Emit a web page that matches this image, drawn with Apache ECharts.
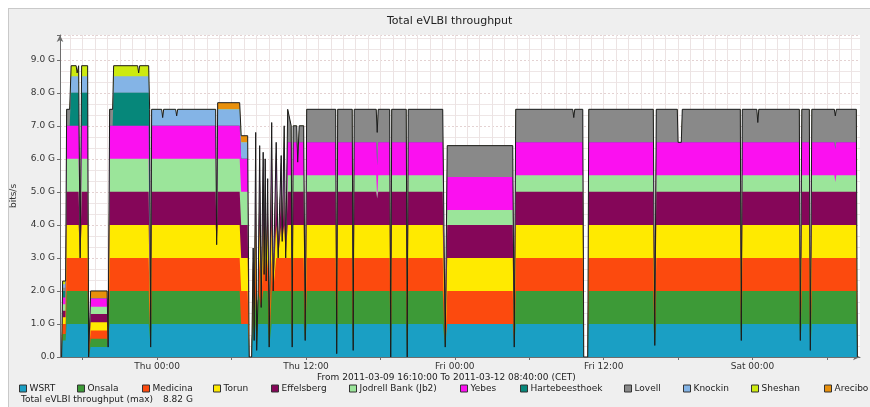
<!DOCTYPE html>
<html><head><meta charset="utf-8">
<script src="https://cdn.jsdelivr.net/npm/echarts@6/dist/echarts.min.js"></script>
<style>
html,body{margin:0;padding:0;background:#fff;overflow:hidden;}
#panel{position:absolute;left:8px;top:8px;width:862px;height:399px;background:#efefef;border-top:1px solid #c9c9c9;border-left:1px solid #c9c9c9;box-sizing:border-box;}
#chart{position:absolute;left:0;top:0;width:870px;height:407px;}
</style></head><body>
<div id="panel"></div><div id="chart"></div>
<script>
// time in hours relative to Thu 2011-03-10 00:00 CET; values in Gbit/s
const startHour = -(7 + 50/60);   // 2011-03-09 16:10
const endHour = 56 + 40/60;       // 2011-03-12 08:40
const times = [
-7.702,-7.621,-7.379,-7.298,-7.056,-6.935,-6.532,-6.452,-6.331,-6.210,
-6.089,-5.605,-5.524,-5.444,-5.363,-4.032,-3.952,-3.831,-3.589,-3.508,
-1.573,-1.492,-1.411,-0.685,-0.605,-0.524,-0.444,0.363,0.444,0.524,
1.492,1.573,1.653,4.718,4.798,4.879,6.653,6.774,7.298,7.419,
7.621,7.742,7.823,7.944,8.024,8.145,8.266,8.387,8.548,8.629,
8.710,8.790,8.911,9.032,9.234,9.355,9.597,9.758,10.0,10.081,
10.242,10.363,10.524,10.685,10.806,10.887,10.968,11.250,11.331,11.452,
11.815,11.935,12.056,14.395,14.476,14.556,15.726,15.806,15.887,17.661,
17.742,17.823,18.750,18.831,18.911,20.081,20.161,20.242,23.024,23.226,
23.387,28.669,28.790,28.911,33.508,33.589,33.669,34.315,34.395,34.718,
34.798,40.0,40.121,40.242,41.935,42.0,42.258,42.339,47.016,47.097,
47.177,48.347,48.427,48.508,51.774,51.855,51.976,52.581,52.661,52.782,
54.597,54.677,54.758,56.371,56.452];

const stations = ['WSRT','Onsala','Medicina','Torun','Effelsberg','Jodrell Bank (Jb2)','Yebes','Hartebeesthoek','Lovell','Knockin','Sheshan','Arecibo'];

const wsrt = [
0,.5,.5,1,1,1,1,1,1,1,
1,1,0,0,.3,.3,.3,1,1,1,
1,1,1,1,1,.3,1,1,1,1,
1,1,1,1,1,1,1,1,1,0,
0,1,.5,1,.2,1,1,1,1,1,
1,1,1,.3,1,1,1,1,1,1,
1,1,1,1,1,.3,1,1,1,1,
1,.5,1,1,.1,1,1,.2,1,1,
1,1,1,0,1,1,0,1,1,.3,
1,1,.3,1,1,1,1,1,0,0,
1,1,.35,1,1,1,1,1,1,.5,
1,1,1,1,1,.5,1,1,.2,1,
1,1,1,1,0];
const onsala = [
0,.2,.2,1,1,1,1,1,1,1,
1,1,0,0,.25,.25,0,1,1,1,
1,1,1,1,1,0,1,1,1,1,
1,1,1,1,1,1,1,0,0,0,
0,1,0,1,0,1,1,.5,1,1,
1,1,1,0,1,1,1,1,1,1,
1,1,1,1,1,0,1,1,1,1,
1,0,1,1,0,1,1,0,1,1,
1,1,1,0,1,1,0,1,1,0,
0,0,0,1,1,1,1,1,0,0,
1,1,0,1,1,1,1,1,1,0,
1,1,1,1,1,0,1,1,0,1,
1,1,1,1,0];
const medicina = [
0,.3,.3,1,1,1,1,1,1,1,
1,1,0,0,.25,.25,0,1,1,1,
1,1,1,1,1,0,1,1,1,1,
1,1,1,1,1,1,1,1,1,0,
0,1,0,1,0,0,1,0,1,.5,
1,.3,1,0,1,0,1,1,1,1,
1,1,1,1,1,0,1,1,1,1,
1,0,1,1,0,1,1,0,1,1,
1,1,1,0,1,1,0,1,1,0,
1,1,0,1,1,1,1,1,0,0,
1,1,0,1,1,1,1,1,1,0,
1,1,1,1,1,0,1,1,0,1,
1,1,1,1,0];
const torun = [
0,.2,.2,1,1,1,1,1,1,0,
1,1,0,0,.25,.25,0,1,1,1,
1,1,1,1,1,0,1,1,1,1,
1,1,1,1,.4,1,1,1,1,0,
0,.3,0,1,0,0,1,0,1,0,
1,0,1,0,1,0,1,0,1,.5,
1,0,1,1,1,0,1,1,1,1,
1,0,1,1,0,1,1,0,1,1,
1,1,1,0,1,1,0,1,1,0,
1,1,0,1,1,1,1,1,0,0,
1,1,0,1,1,1,1,1,1,0,
1,1,1,1,1,0,1,1,0,1,
1,1,1,1,0];
const effelsberg = [
0,.2,.2,1,1,1,1,1,1,0,
1,1,0,0,.25,.25,0,1,1,1,
1,1,1,1,1,0,1,1,1,1,
1,1,1,1,0,1,1,1,1,0,
0,0,0,1,0,0,1,0,1,0,
1,0,1,0,1,0,1,0,1,0,
1,0,1,1,1,0,1,1,1,1,
1,0,1,1,0,1,1,0,1,1,
.8,1,1,0,1,1,0,1,1,0,
1,1,0,1,1,1,1,1,0,0,
1,1,0,1,1,1,1,1,1,0,
1,1,1,1,1,0,1,1,0,1,
1,1,1,1,0];
const jodrell = [
0,.2,.2,1,1,1,1,1,1,0,
1,1,0,0,.22,.22,0,1,1,1,
1,1,1,1,1,0,1,1,1,1,
1,1,1,1,0,1,1,1,1,0,
0,0,0,.5,0,0,.5,0,.5,0,
.5,0,.4,0,.5,0,.5,0,.5,0,
.5,0,.5,.5,.5,0,.5,.5,.5,.5,
.5,0,.5,.5,0,.5,.5,0,.5,.5,
0,.5,.5,0,.5,.5,0,.5,.5,0,
.45,.45,0,.5,.5,.5,.5,.5,0,0,
.5,.5,0,.5,.5,.5,.5,.5,.5,0,
.5,.5,.5,.5,.5,0,.5,.5,0,.5,
.5,.3,.5,.5,0];
const yebes = [
0,.2,.2,1,1,1,1,1,1,0,
1,1,0,0,.25,.25,0,1,1,1,
1,1,1,1,1,0,1,1,1,1,
1,1,1,1,0,1,1,1,1,0,
0,0,0,1,0,0,.9,0,.7,0,
.5,0,0,0,1,0,1,0,.6,0,
1,0,1,1,1,0,1,1,.4,1,
1,0,1,1,0,1,1,0,1,1,
1,1,1,0,1,1,0,1,1,0,
1,1,0,1,1,1,1,1,0,0,
1,1,0,1,1,1,1,1,1,0,
1,1,1,1,1,0,1,1,0,1,
1,1,1,1,0];
const hartebeesthoek = [
0,.2,.2,0,0,1,1,1,1,0,
1,1,0,0,0,0,0,0,0,1,
1,1,1,1,0,0,0,0,0,0,
0,0,0,0,0,0,0,0,0,0,
0,0,0,0,0,0,0,0,0,0,
0,0,0,0,0,0,0,0,0,0,
0,0,0,0,0,0,0,0,0,0,
0,0,0,0,0,0,0,0,0,0,
0,0,0,0,0,0,0,0,0,0,
0,0,0,0,0,0,0,0,0,0,
0,0,0,0,0,0,0,0,0,0,
0,0,0,0,0,0,0,0,0,0,
0,0,0,0,0];
const lovell = [
0,.1,.1,.5,.5,0,0,0,0,0,
0,0,0,0,0,0,0,.5,.5,0,
0,0,0,0,0,0,0,0,0,0,
0,0,0,0,0,0,0,0,0,0,
0,0,0,.3,0,0,0,0,0,0,
0,0,0,0,.6,0,0,0,0,0,
.5,0,1,1,.5,0,.5,.5,0,.5,
.5,0,1,1,0,1,1,0,1,1,
1,1,1,0,1,1,0,1,1,0,
.95,.95,0,1,1,.75,1,1,0,0,
1,1,0,1,1,0,0,1,1,0,
1,1,.6,1,1,0,1,1,0,1,
1,1,1,1,0];
const knockin = [
0,.1,.1,0,0,.5,.5,.5,.5,0,
.5,.5,0,0,0,0,0,0,0,.5,
.5,.5,.5,.5,.5,0,.5,.5,.25,.5,
.5,.3,.5,.5,0,.5,.5,.5,.5,0,
0,0,0,0,0,0,0,0,0,0,
0,0,0,0,0,0,0,0,0,0,
0,0,0,0,0,0,0,0,0,0,
0,0,0,0,0,0,0,0,0,0,
0,0,0,0,0,0,0,0,0,0,
0,0,0,0,0,0,0,0,0,0,
0,0,0,0,0,0,0,0,0,0,
0,0,0,0,0,0,0,0,0,0,
0,0,0,0,0];
const sheshan = [
0,.1,.1,0,0,.32,.32,.1,.32,0,
.32,.32,0,0,0,0,0,0,0,.32,
.32,.1,.32,.32,0,0,0,0,0,0,
0,0,0,0,0,0,0,0,0,0,
0,0,0,0,0,0,0,0,0,0,
0,0,0,0,0,0,0,0,0,0,
0,0,0,0,0,0,0,0,0,0,
0,0,0,0,0,0,0,0,0,0,
0,0,0,0,0,0,0,0,0,0,
0,0,0,0,0,0,0,0,0,0,
0,0,0,0,0,0,0,0,0,0,
0,0,0,0,0,0,0,0,0,0,
0,0,0,0,0];
const arecibo = [
0,0,0,0,0,0,0,0,0,0,
0,0,0,0,.23,.23,0,0,0,0,
0,0,0,0,0,0,0,0,0,0,
0,0,0,0,0,.2,.2,.2,.2,0,
0,0,0,0,0,0,0,0,0,0,
0,0,0,0,0,0,0,0,0,0,
0,0,0,0,0,0,0,0,0,0,
0,0,0,0,0,0,0,0,0,0,
0,0,0,0,0,0,0,0,0,0,
0,0,0,0,0,0,0,0,0,0,
0,0,0,0,0,0,0,0,0,0,
0,0,0,0,0,0,0,0,0,0,
0,0,0,0,0];

const tickHours = [0, 12, 24, 36, 48];
const tickLabels = ['Thu 00:00', 'Thu 12:00', 'Fri 00:00', 'Fri 12:00', 'Sat 00:00'];
const rangeText = 'From 2011-03-09 16:10:00 To 2011-03-12 08:40:00 (CET)';

const values = [wsrt, onsala, medicina, torun, effelsberg, jodrell, yebes, hartebeesthoek, lovell, knockin, sheshan, arecibo];
const colors = ['#1a9fc4','#3d9a37','#fc4a0e','#ffea00','#850659','#9be59a','#fb10f0','#06877a','#898989','#84b4e6','#cdea10','#e8900c'];
values.forEach((a, k) => { if (a.length !== times.length) console.error('length mismatch', stations[k], a.length); });

// cumulative (stacked) tops, bottom station first
const cumulative = [];
let run = times.map(() => 0);
values.forEach(a => { run = run.map((s, i) => s + a[i]); cumulative.push(run.slice()); });
const totals = run;
const maxTotal = Math.max(...totals);

const FONT = 'DejaVu Sans';
const hourLines = [];
for (let h = Math.ceil(startHour); h <= Math.floor(endHour); h++) hourLines.push({ xAxis: h });
const sixHourTicks = [];
for (let h = -6; h <= endHour; h += 6) sixHourTicks.push(h);
const legendLeft = [19, 77, 142, 213, 271, 349, 460, 520, 624, 683, 751, 824];

const series = [];
series.push({
  name: 'grid', type: 'line', data: [], silent: true, z: 1,
  markLine: { z: 1, silent: true, symbol: ['none', 'none'], label: { show: false },
    lineStyle: { color: '#ece3e3', width: 1, type: 'solid' }, animation: false, data: hourLines }
});
// paint top station first so each lower band covers the one above it
for (let k = stations.length - 1; k >= 0; k--) {
  series.push({
    name: stations[k], type: 'line', symbol: 'none', showSymbol: false,
    lineStyle: { width: 0 }, itemStyle: { color: colors[k] },
    areaStyle: { color: colors[k], opacity: 1 },
    emphasis: { disabled: true }, silent: true, z: 2,
    data: times.map((t, i) => [t, +cumulative[k][i].toFixed(4)])
  });
}
series.push({
  name: 'Total', type: 'line', symbol: 'none', showSymbol: false, silent: true, z: 3,
  lineStyle: { color: '#1c1c1c', width: 1 }, emphasis: { disabled: true },
  data: times.map((t, i) => [t, +totals[i].toFixed(4)])
});

const chart = echarts.init(document.getElementById('chart'));
chart.setOption({
  animation: false,
  title: { text: 'Total eVLBI throughput', left: 382, top: 11,
    textStyle: { fontSize: 11, fontWeight: 'normal', color: '#222', fontFamily: FONT } },
  grid: { left: 60, right: 10, top: 35, bottom: 50, show: true, backgroundColor: '#ffffff', borderWidth: 0 },
  xAxis: {
    type: 'value', min: startHour, max: endHour,
    axisLine: { show: true, onZero: false, lineStyle: { color: '#6e6e6e' }, symbol: ['none', 'arrow'], symbolSize: [5, 7] },
    axisTick: { show: true, customValues: sixHourTicks, length: 3, lineStyle: { color: '#6e6e6e' } },
    axisLabel: { customValues: tickHours, formatter: v => { const i = tickHours.indexOf(v); return i >= 0 ? tickLabels[i] : ''; },
      fontSize: 9, color: '#333', fontFamily: FONT, margin: 5 },
    splitLine: { show: false }
  },
  yAxis: {
    type: 'value', min: 0, max: 9.75, interval: 1,
    name: 'bits/s', nameLocation: 'middle', nameGap: 42, nameRotate: 90,
    nameTextStyle: { fontSize: 9, color: '#333', fontFamily: FONT },
    axisLine: { show: true, onZero: false, lineStyle: { color: '#6e6e6e' }, symbol: ['none', 'arrow'], symbolSize: [5, 7] },
    axisTick: { show: true, length: 3, lineStyle: { color: '#6e6e6e' } },
    axisLabel: { fontSize: 9, color: '#333', fontFamily: FONT, margin: 5,
      formatter: v => { if (Math.abs(v - Math.round(v)) > 1e-6) return ''; return v === 0 ? '0.0' : v.toFixed(1) + ' G'; } },
    splitLine: { show: true, lineStyle: { color: '#e4d2d2', type: [2, 2] } },
    minorTick: { show: false, splitNumber: 3 },
    minorSplitLine: { show: true, lineStyle: { color: '#eee6e6' } }
  },
  legend: stations.map((name, k) => ({
    data: [name], left: legendLeft[k], top: 384, icon: 'rect', itemWidth: 7, itemHeight: 7,
    itemGap: 0, padding: 0, selectedMode: false,
    itemStyle: { borderColor: '#333', borderWidth: 1 },
    textStyle: { fontSize: 9, color: '#222', fontFamily: FONT, padding: [0, 0, 0, -2] }
  })),
  graphic: [
    { type: 'text', left: 445 - 128, top: 373, style: { text: rangeText, fontSize: 9, fill: '#222', fontFamily: FONT } },
    { type: 'text', left: 21, top: 395, style: { text: 'Total eVLBI throughput (max)', fontSize: 9, fill: '#222', fontFamily: FONT } },
    { type: 'text', left: 163, top: 395, style: { text: maxTotal.toFixed(2) + ' G', fontSize: 9, fill: '#222', fontFamily: FONT } }
  ],
  series
});
</script></body></html>
